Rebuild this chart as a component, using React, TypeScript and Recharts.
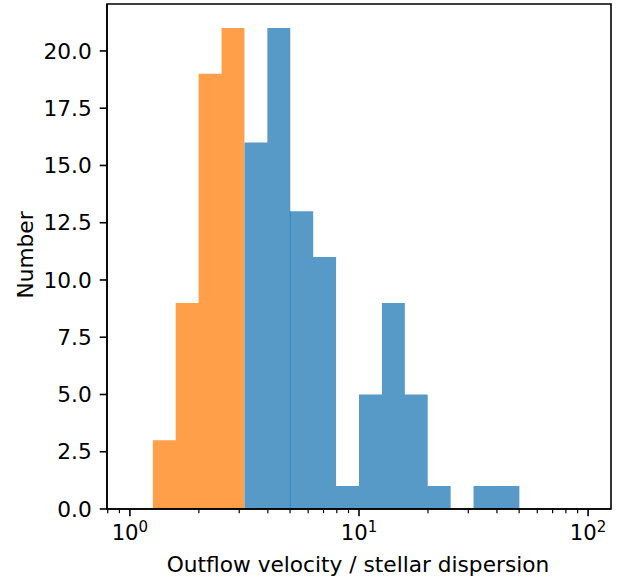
import { ComposedChart, Area, XAxis, YAxis, ReferenceArea, ReferenceLine } from 'recharts';

// log-spaced bin edges (0.1 dex)
const binEdges = [1.259, 1.585, 1.995, 2.512, 3.162, 3.981, 5.012, 6.31, 7.943, 10.0, 12.59, 15.85, 19.95, 25.12, 31.62, 39.81, 50.12];
const orangeCounts = [3, 9, 19, 21];
const blueCounts = [16, 21, 13, 11, 1, 5, 9, 5, 1, 0, 1, 1];

// second blue histogram starts here, leaving a faint seam
const seamEdge = 5.012;
const seamHeight = 13;

const majorTicks = [1, 10, 100];
const minorTicks = [0.8, 0.9, 2, 3, 4, 5, 6, 7, 8, 9, 20, 30, 40, 50, 60, 70, 80, 90];
const yTicks = [0, 2.5, 5, 7.5, 10, 12.5, 15, 17.5, 20];

const xMin = 0.7943;
const xMax = 125.89;
const yMax = 22.05;

const FONT = '"DejaVu Sans", sans-serif';
const FS = 21.7;

const table = binEdges.map((edge, i) => ({
  edge,
  orange: i < orangeCounts.length ? orangeCounts[i] : i === orangeCounts.length ? 0 : null,
  blue: i < orangeCounts.length ? null : blueCounts[i - orangeCounts.length] ?? 0,
}));

const allXTicks = [...minorTicks, ...majorTicks].sort((a, b) => a - b);

function XTick(props: any) {
  const { x, y, payload } = props;
  const v = payload.value;
  const major = majorTicks.includes(v);
  const exp = Math.round(Math.log10(v));
  return (
    <g>
      <line x1={x} x2={x} y1={y} y2={y + (major ? 7.3 : 4.2)} stroke="#000" strokeWidth={major ? 1.6 : 1.2} />
      {major && (
        <text x={x} y={y + 31} textAnchor="middle" fontSize={21.2} fontFamily={FONT} fill="#000">
          <tspan>10</tspan>
          <tspan dy={-8.5} fontSize={15}>{exp}</tspan>
        </text>
      )}
    </g>
  );
}

export default function App() {
  return (
    <div style={{ position: 'absolute', left: 0, top: 0 }}>
      <ComposedChart width={627} height={580} data={table} margin={{ top: 4, right: 16, bottom: 0, left: 0 }}>
        <XAxis
          dataKey="edge"
          type="number"
          scale="log"
          domain={[xMin, xMax]}
          allowDataOverflow
          ticks={allXTicks}
          interval={0}
          tick={<XTick />}
          tickLine={false}
          tickSize={0}
          tickMargin={0}
          height={71}
          axisLine={{ stroke: '#000', strokeWidth: 1.6 }}
          label={(p: any) => (
            <text x={358} y={572} textAnchor="middle" fontSize={FS} fontFamily={FONT} fill="#000">
              Outflow velocity / stellar dispersion
            </text>
          )}
        />
        <YAxis
          type="number"
          domain={[0, yMax]}
          ticks={yTicks}
          interval={0}
          width={107}
          tickSize={7.3}
          tickMargin={8}
          tickFormatter={(v: number) => v.toFixed(1)}
          tick={{ fill: '#000', fontSize: FS, fontFamily: FONT }}
          tickLine={{ stroke: '#000', strokeWidth: 1.6 }}
          axisLine={{ stroke: '#000', strokeWidth: 1.6 }}
          label={(p: any) => (
            <text
              x={32.5}
              y={255}
              transform="rotate(-90 32.5 255)"
              textAnchor="middle"
              fontSize={FS}
              fontFamily={FONT}
              fill="#000"
            >
              Number
            </text>
          )}
        />
        <Area
          dataKey="orange"
          type="stepAfter"
          fill="#ff9f4a"
          fillOpacity={1}
          stroke="none"
          dot={false}
          activeDot={false}
          isAnimationActive={false}
        />
        <Area
          dataKey="blue"
          type="stepAfter"
          fill="#5799c7"
          fillOpacity={1}
          stroke="none"
          dot={false}
          activeDot={false}
          isAnimationActive={false}
        />
        <ReferenceLine
          segment={[{ x: seamEdge, y: 0 }, { x: seamEdge, y: seamHeight }]}
          stroke="#3a85bb"
          strokeWidth={1}
        />
        <ReferenceArea x1={xMin} x2={xMax} y1={0} y2={yMax} fill="none" fillOpacity={0} stroke="#000" strokeWidth={1.6} />
      </ComposedChart>
    </div>
  );
}
